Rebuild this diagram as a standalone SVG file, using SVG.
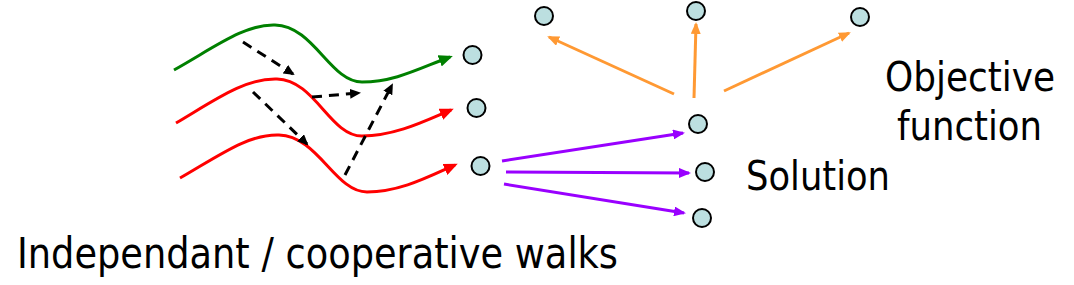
<svg xmlns="http://www.w3.org/2000/svg" width="1074" height="285" viewBox="0 0 1074 285">
<style>
.node{fill:#bcdfe0;stroke:#000;stroke-width:2}
.walk{fill:none;stroke-width:3}
.dash{fill:none;stroke:#000;stroke-width:3;stroke-dasharray:10 7}
.pur{fill:none;stroke:#9900ff;stroke-width:3}
.org{fill:none;stroke:#ff9933;stroke-width:3}
.lbl{font-family:"DejaVu Sans","Verdana",sans-serif;fill:#000}
</style>
<defs>
<marker id="mg" markerUnits="userSpaceOnUse" markerWidth="14" markerHeight="12" refX="11" refY="6" orient="auto"><path d="M0,0 L14,6 L0,12 z" fill="#008000"/></marker>
<marker id="mr" markerUnits="userSpaceOnUse" markerWidth="14" markerHeight="12" refX="11" refY="6" orient="auto"><path d="M0,0 L14,6 L0,12 z" fill="#ff0000"/></marker>
<marker id="mk" markerUnits="userSpaceOnUse" markerWidth="11" markerHeight="10" refX="9" refY="5" orient="auto"><path d="M0,0 L11,5 L0,10 z" fill="#000"/></marker>
<marker id="mp" markerUnits="userSpaceOnUse" markerWidth="12" markerHeight="10" refX="10" refY="5" orient="auto"><path d="M0,0 L12,5 L0,10 z" fill="#9900ff"/></marker>
<marker id="mo" markerUnits="userSpaceOnUse" markerWidth="12" markerHeight="10" refX="10" refY="5" orient="auto"><path d="M0,0 L12,5 L0,10 z" fill="#ff9933"/></marker>
</defs>
<g id="connectors">
<path class="walk" stroke="#008000" d="M174,70 C215,47 245,24 275,25 C314,26 330,82 362,82 C395,82 420,68 450,57" marker-end="url(#mg)"/>
<path class="walk" stroke="#ff0000" d="M176,123 C215,100 245,78 277,79 C315,80 330,136 362,136 C395,136 425,121 451,110" marker-end="url(#mr)"/>
<path class="walk" stroke="#ff0000" d="M180,178 C220,155 248,134 279,135 C318,136 335,192 367,192 C400,192 428,177 455,165" marker-end="url(#mr)"/>
<path class="dash" d="M243,42 L293,74" marker-end="url(#mk)"/>
<path class="dash" d="M312,97 L359,93" marker-end="url(#mk)"/>
<path class="dash" d="M253,92 L307,144" marker-end="url(#mk)"/>
<path class="dash" d="M345,175 L392,85" marker-end="url(#mk)"/>
<path class="pur" d="M502,161 L683,133" marker-end="url(#mp)"/>
<path class="pur" d="M506,172 L689,173" marker-end="url(#mp)"/>
<path class="pur" d="M504,184 L684,213" marker-end="url(#mp)"/>
<path class="org" d="M674,94 L549,37" marker-end="url(#mo)"/>
<path class="org" d="M694,98 L696,24" marker-end="url(#mo)"/>
<path class="org" d="M724,91 L849,33" marker-end="url(#mo)"/>
</g>
<g id="n1"><circle class="node" cx="472.5" cy="55" r="9"/></g>
<g id="n2"><circle class="node" cx="476.5" cy="108" r="9"/></g>
<g id="n3"><circle class="node" cx="480.5" cy="166" r="9"/></g>
<g id="n4"><circle class="node" cx="698" cy="124" r="9"/></g>
<g id="n5"><circle class="node" cx="705" cy="172" r="9"/></g>
<g id="n6"><circle class="node" cx="702" cy="218" r="9"/></g>
<g id="n7"><circle class="node" cx="544" cy="16" r="9"/></g>
<g id="n8"><circle class="node" cx="696" cy="11" r="9"/></g>
<g id="n9"><circle class="node" cx="860" cy="17" r="9"/></g>
<g id="labels">
<text class="lbl" x="17" y="268" font-size="43" textLength="601" lengthAdjust="spacingAndGlyphs">Independant / cooperative walks</text>
<text class="lbl" x="746" y="190" font-size="40" textLength="144" lengthAdjust="spacingAndGlyphs">Solution</text>
<text class="lbl" x="885" y="91" font-size="40" textLength="170" lengthAdjust="spacingAndGlyphs">Objective</text>
<text class="lbl" x="897" y="140" font-size="40" textLength="145" lengthAdjust="spacingAndGlyphs">function</text>
</g>
</svg>
